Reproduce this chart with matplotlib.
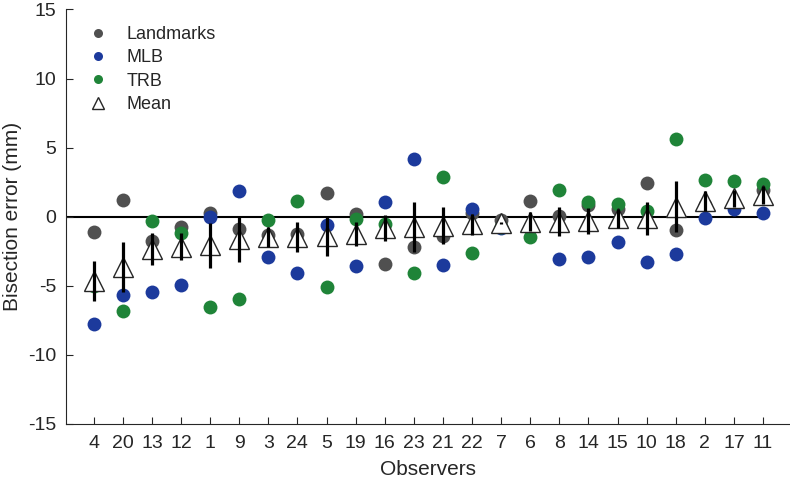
import numpy as np
import matplotlib.pyplot as plt

# donnees
observers = ["4", "20", "13", "12", "1", "9", "3", "24", "5", "19", "16", "23",
             "21", "22", "7", "6", "8", "14", "15", "10", "18", "2", "17", "11"]

landmarks = [-1.13, 1.19, -1.74, -0.72, 0.29, -0.91, -1.30, -1.25, 1.69, 0.20, -3.42, -2.21,
             -1.40, 0.30, -0.24, 1.11, 0.05, 0.85, 0.54, 2.42, -0.96, 0.85, 0.90, 1.93]
mlb = [-7.76, -5.67, -5.43, -4.97, -0.05, 1.88, -2.94, -4.05, -0.62, -3.55, 1.09, 4.15,
       -3.50, 0.54, -0.84, -0.77, -3.04, -2.92, -1.81, -3.26, -2.72, -0.12, 0.54, 0.29]
trb = [-5.01, -6.80, -0.31, -1.20, -6.51, -5.98, -0.24, 1.16, -5.07, -0.14, -0.53, -4.10,
       2.89, -2.65, -0.77, -1.49, 1.93, 1.09, 0.90, 0.41, 5.62, 2.66, 2.58, 2.37]
mean_err = [-4.63, -3.66, -2.36, -2.17, -2.05, -1.64, -1.49, -1.49, -1.40, -1.25, -0.84, -0.72,
            -0.65, -0.53, -0.48, -0.36, -0.36, -0.31, -0.12, -0.12, 0.72, 1.16, 1.33, 1.57]
err = [1.45, 1.80, 1.15, 0.97, 1.63, 1.67, 0.73, 1.09, 1.46, 0.85, 0.94, 1.81,
       1.35, 0.76, 0.08, 0.69, 1.07, 0.97, 0.68, 1.17, 1.85, 0.73, 0.63, 0.66]

plt.rcParams['font.family'] = ['Liberation Sans', 'DejaVu Sans']
plt.rcParams['axes.unicode_minus'] = False
txt = "#262626"

x = np.arange(1, len(observers) + 1)

fig = plt.figure(figsize=(7.9, 4.86), dpi=100)
ax = fig.add_axes([0.0832, 0.1276, 0.917, 0.853])

ax.plot([0, 24.14], [0, 0], color="black", lw=1.5, zorder=1)

ax.plot(x, landmarks, "o", color="#505050", ms=10, mec="none", label="Landmarks", zorder=2)
ax.plot(x, mlb, "o", color="#1c3a9c", ms=10, mec="none", label="MLB", zorder=3)
ax.plot(x, trb, "o", color="#1f8438", ms=10, mec="none", label="TRB", zorder=4)
ax.plot(x, mean_err, "^", mfc="white", mec="#262626", mew=1.0, ms=14, label="Mean", zorder=5)
ax.vlines(x, np.array(mean_err) - np.array(err), np.array(mean_err) + np.array(err),
          color="black", lw=2.3, zorder=6)

ax.set_xlim(0.04, 24.93)
ax.set_ylim(-15, 15)
ax.set_xticks(x)
ax.set_xticklabels(observers)
ax.set_yticks([-15, -10, -5, 0, 5, 10, 15])
ax.tick_params(direction="in", length=5, labelsize=14, colors=txt, width=0.8)
ax.tick_params(axis="x", pad=8)
ax.tick_params(axis="y", pad=7)
ax.spines["top"].set_visible(False)
ax.spines["right"].set_visible(False)
ax.spines["left"].set_color(txt)
ax.spines["bottom"].set_color(txt)

ax.set_xlabel("Observers", fontsize=15, color=txt, labelpad=6)
ax.set_ylabel("Bisection error (mm)", fontsize=15, color=txt, labelpad=4)

leg = ax.legend(loc="upper left", frameon=False, fontsize=13, markerscale=0.65,
                handletextpad=0.55, borderaxespad=0.4, labelspacing=0.35,
                bbox_to_anchor=(0.0, 0.995))
for t in leg.get_texts():
    t.set_color(txt)

plt.savefig("out.png", dpi=100)
print("Graphique sauvegarde")
